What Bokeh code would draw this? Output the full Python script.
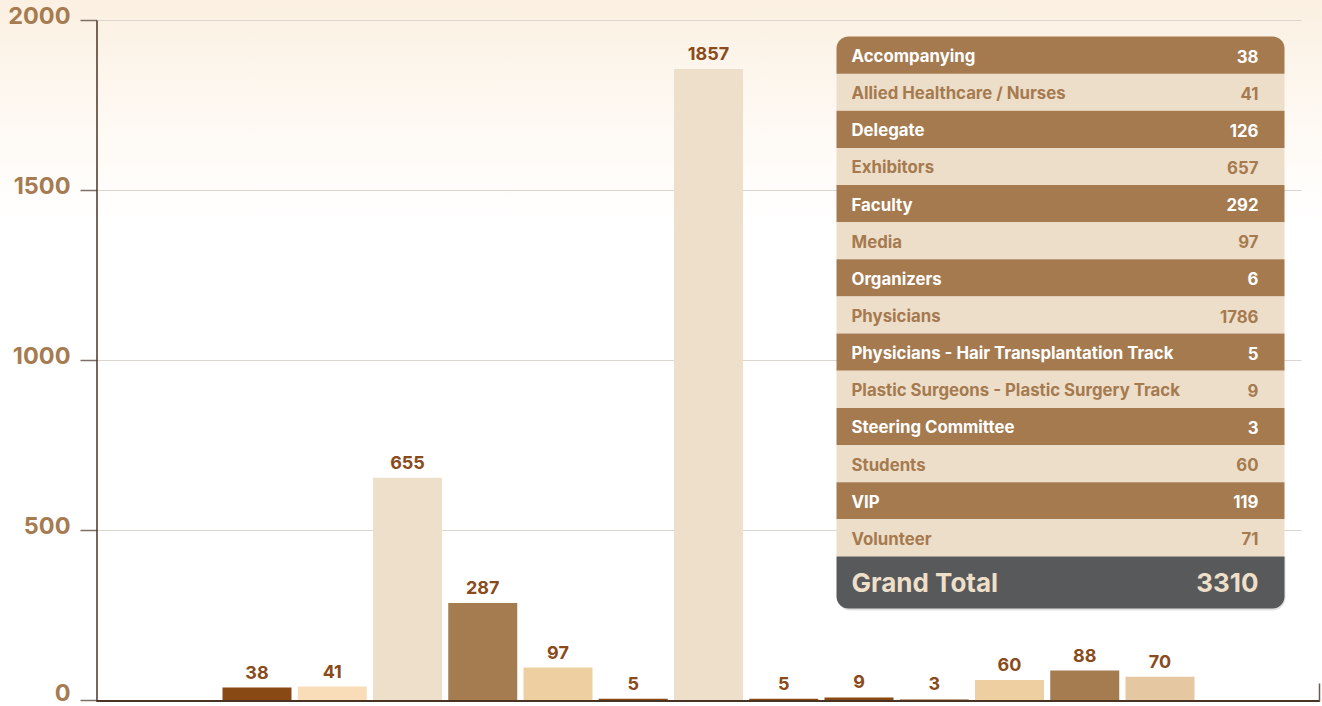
from bokeh.plotting import figure
from bokeh.models import Range1d
from bokeh.core.properties import value
from bokeh.embed import file_html
from bokeh.resources import INLINE

# ---------------- data ----------------
bar_values = [38, 41, 655, 287, 97, 5, 1857, 5, 9, 3, 60, 88, 70]
bar_colors = ["#884914", "#F8DDB8", "#EDDFCA", "#A57B50", "#EDCFA1", "#884914",
              "#EDDFCA", "#884914", "#884914", "#884914", "#EDCFA1", "#A57B50", "#E5C8A2"]
y_ticks = [0, 500, 1000, 1500, 2000]
y_tick_labels = ["0", "500", "1000", "1500", "2000"]

table_categories = ["Accompanying", "Allied Healthcare / Nurses", "Delegate", "Exhibitors",
                    "Faculty", "Media", "Organizers", "Physicians",
                    "Physicians - Hair Transplantation Track",
                    "Plastic Surgeons - Plastic Surgery Track", "Steering Committee",
                    "Students", "VIP", "Volunteer"]
table_values = [38, 41, 126, 657, 292, 97, 6, 1786, 5, 9, 3, 60, 119, 71]
grand_total_label = "Grand Total"
grand_total_value = 3310

# ---------------- layout constants ----------------
W, H = 1322, 706
FONT = "Inter"
DARK = "#A57A4F"
LIGHT = "#EDDEC9"
Y0_PX = 700          # pixel row of value 0
PX_PER_UNIT = 0.34   # vertical scale
X1_PX = 256.5        # pixel column of first bar centre
SLOT_PX = 75.25      # spacing of bars

p = figure(width=W, height=H, output_backend="svg", toolbar_location=None,
           x_range=Range1d(1 - X1_PX / SLOT_PX, 1 + (W - X1_PX) / SLOT_PX),
           y_range=Range1d(-(H - Y0_PX) / PX_PER_UNIT, Y0_PX / PX_PER_UNIT),
           x_axis_location=None, y_axis_location=None,
           min_border_left=0, min_border_right=0, min_border_top=0, min_border_bottom=0)
p.styles = {"background": "linear-gradient(180deg, #FBF0E1 0%, #FCF5EB 9%, #FEFAF5 20%, #FFFFFF 32%)"}
p.background_fill_alpha = 0
p.border_fill_alpha = 0
p.outline_line_color = None
p.xgrid.visible = False
p.ygrid.visible = False

# pixel helper ranges (x from canvas left, y from canvas bottom)
p.extra_x_ranges = {"px": Range1d(0, W)}
p.extra_y_ranges = {"px": Range1d(0, H)}


def Y(top_px):
    return H - top_px


AX_X = 96.5

# grid lines
grid_y = [t for t in y_ticks if t > 0]
p.segment(x0=[AX_X] * len(grid_y), x1=[1301] * len(grid_y), y0=grid_y, y1=grid_y,
          x_range_name="px", line_color="#DCD5CE", line_width=1.2)
# y ticks
p.segment(x0=[80] * len(y_ticks), x1=[AX_X] * len(y_ticks), y0=y_ticks, y1=y_ticks,
          x_range_name="px", line_color="#7D6F66", line_width=1.5)
# y axis line
p.segment(x0=[AX_X], x1=[AX_X], y0=[0], y1=[max(y_ticks)], x_range_name="px",
          line_color="#4B3324", line_width=1.5)
# y tick labels (the bottom one nudged up so it stays inside the canvas)
label_offsets = [-8 if t == 0 else -5 for t in y_ticks]
p.text(x=[70] * len(y_ticks), y=y_ticks, text=y_tick_labels, x_range_name="px",
       y_offset=label_offsets, text_align="right", text_baseline="middle",
       text_font=value(FONT), text_font_style="bold", text_font_size="23.5px",
       text_color="#A67B50")

# bars
xs = list(range(1, len(bar_values) + 1))
p.vbar(x=xs, top=bar_values, bottom=0, width=0.917, fill_color=bar_colors, line_color=None)
p.text(x=xs, y=bar_values, text=[str(v) for v in bar_values], y_offset=-9,
       text_align="center", text_baseline="bottom", text_font=value(FONT),
       text_font_style="bold", text_font_size="18px", text_color="#8A4A1A")

# baseline and right end tick
p.segment(x0=[AX_X - 0.75], x1=[1319.5], y0=[Y(700.5)], y1=[Y(700.5)], x_range_name="px",
          y_range_name="px", line_color="#4B3324", line_width=2)
p.segment(x0=[1319], x1=[1319], y0=[Y(701)], y1=[Y(683)], x_range_name="px",
          y_range_name="px", line_color="#6B5A50", line_width=1.5)

# table
T_L, T_R, T_TOP, ROW_H = 836, 1284, 36, 37.14
n = len(table_categories)
tops = [T_TOP + i * ROW_H for i in range(n)]
bots = [T_TOP + (i + 1) * ROW_H for i in range(n)]
gt_top = bots[-1]
gt_bot = gt_top + 52

# shadow
p.quad(left=[T_L + 1], right=[T_R + 1], top=[Y(gt_top)], bottom=[Y(gt_bot + 2)],
       x_range_name="px", y_range_name="px", fill_color="#000000", fill_alpha=0.12,
       line_color=None, border_radius=(0, 0, 13, 13))

row_fill = [DARK if i % 2 == 0 else LIGHT for i in range(n)]
p.quad(left=[T_L] * (n - 1), right=[T_R] * (n - 1), top=[Y(t) for t in tops[1:]],
       bottom=[Y(b) for b in bots[1:]], x_range_name="px", y_range_name="px",
       fill_color=row_fill[1:], line_color=None)
p.quad(left=[T_L], right=[T_R], top=[Y(tops[0])], bottom=[Y(bots[0])],
       x_range_name="px", y_range_name="px", fill_color=row_fill[0], line_color=None,
       border_radius=(12, 12, 0, 0))
p.quad(left=[T_L], right=[T_R], top=[Y(gt_top)], bottom=[Y(gt_bot)],
       x_range_name="px", y_range_name="px", fill_color="#58595B", line_color=None,
       border_radius=(0, 0, 12, 12))

row_text_color = ["#FFFFFF" if i % 2 == 0 else DARK for i in range(n)]
row_mid = [Y((t + b) / 2 + 1) for t, b in zip(tops, bots)]
p.text(x=[851] * n, y=row_mid, text=table_categories, x_range_name="px", y_range_name="px",
       text_align="left", text_baseline="middle", text_font=value(FONT),
       text_font_style="bold", text_font_size="16.8px", text_color=row_text_color)
p.text(x=[1258] * n, y=row_mid, text=[str(v) for v in table_values], x_range_name="px",
       y_range_name="px", text_align="right", text_baseline="middle", text_font=value(FONT),
       text_font_style="bold", text_font_size="16.8px", text_color=row_text_color)

gt_mid = Y((gt_top + gt_bot) / 2)
p.text(x=[851], y=[gt_mid], text=[grand_total_label], x_range_name="px", y_range_name="px",
       text_align="left", text_baseline="middle", text_font=value(FONT),
       text_font_style="bold", text_font_size="26px", text_color="#EEDFC9")
p.text(x=[1258], y=[gt_mid], text=[str(grand_total_value)], x_range_name="px",
       y_range_name="px", text_align="right", text_baseline="middle", text_font=value(FONT),
       text_font_style="bold", text_font_size="26px", text_color="#EEDFC9")

open("out.html", "w").write(file_html(p, INLINE))
